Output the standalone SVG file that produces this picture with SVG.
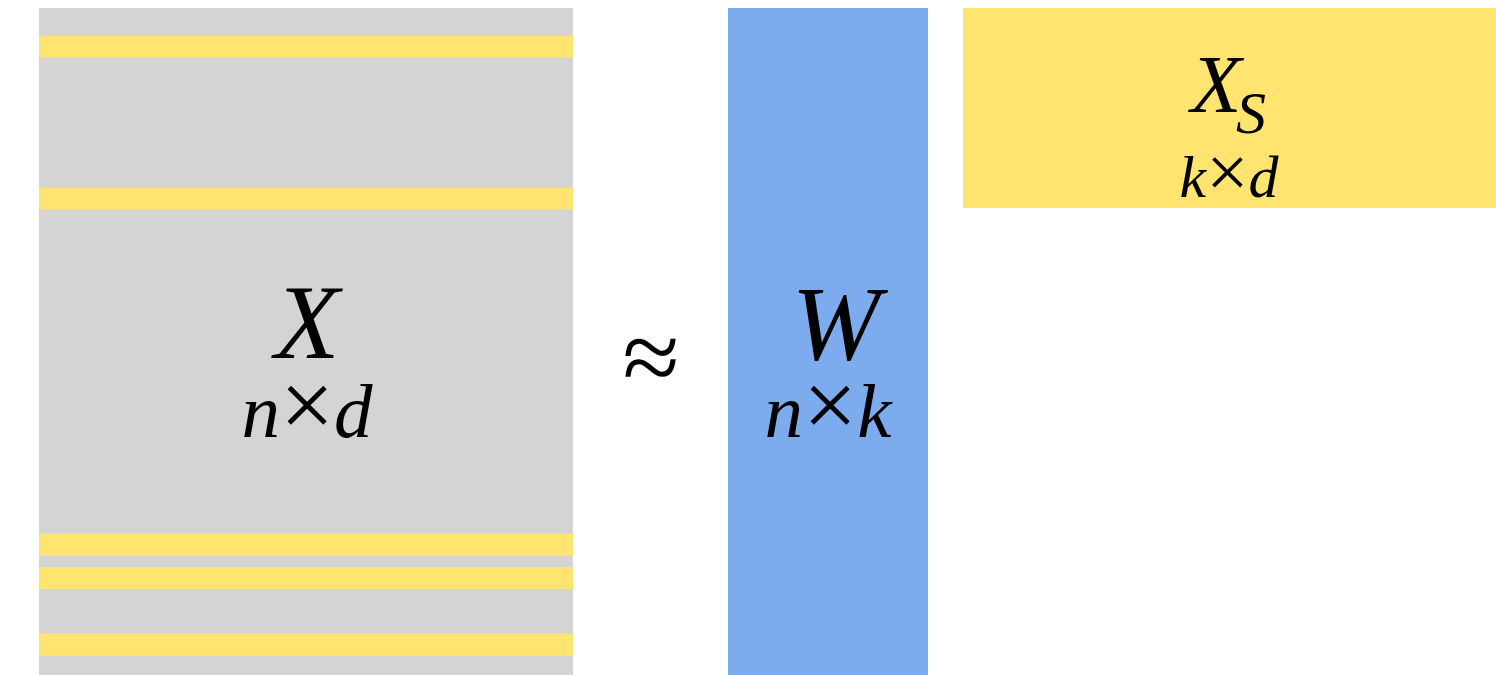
<svg xmlns="http://www.w3.org/2000/svg" width="1496" height="675" viewBox="0 0 1496 675">
<style>
.gray{fill:#D4D4D4}
.yel{fill:#FFE470}
.blue{fill:#7CACEE}
.m{font-family:"Liberation Serif","Times New Roman",serif;font-style:italic;fill:#000;text-anchor:middle}
.x{font-style:normal}
.sym{font-family:"Liberation Serif","Times New Roman",serif;fill:#000;text-anchor:middle}
</style>
<rect width="1496" height="675" fill="#FFFFFF"/>
<g id="matrix-X">
<rect class="gray" x="39" y="8" width="534" height="667"/>
<rect class="yel" x="39" y="35.5" width="534" height="22"/>
<rect class="yel" x="39" y="187.5" width="534" height="22"/>
<rect class="yel" x="39" y="533.5" width="534" height="22"/>
<rect class="yel" x="39" y="567" width="534" height="22"/>
<rect class="yel" x="39" y="633.5" width="534" height="22"/>
<text class="m"><tspan x="307" y="358" font-size="106">X</tspan><tspan x="307" y="437" font-size="77">n<tspan class="x" font-size="96">×</tspan>d</tspan></text>
</g>
<g id="approx">
<text class="sym" x="651" y="392" font-size="104">≈</text>
</g>
<g id="matrix-W">
<rect class="blue" x="728" y="8" width="200" height="667"/>
<text class="m"><tspan x="836" y="359" font-size="106">W</tspan><tspan x="828" y="437" font-size="77">n<tspan class="x" font-size="96">×</tspan>k</tspan></text>
</g>
<g id="matrix-XS">
<rect class="yel" x="963" y="8" width="533" height="200"/>
<text class="m"><tspan x="1216" y="112" font-size="83">X</tspan><tspan x="1251" y="133" font-size="60">S</tspan><tspan x="1229" y="197" font-size="60">k<tspan class="x" font-size="75">×</tspan>d</tspan></text>
</g>
<g id="connectors"></g>
</svg>
